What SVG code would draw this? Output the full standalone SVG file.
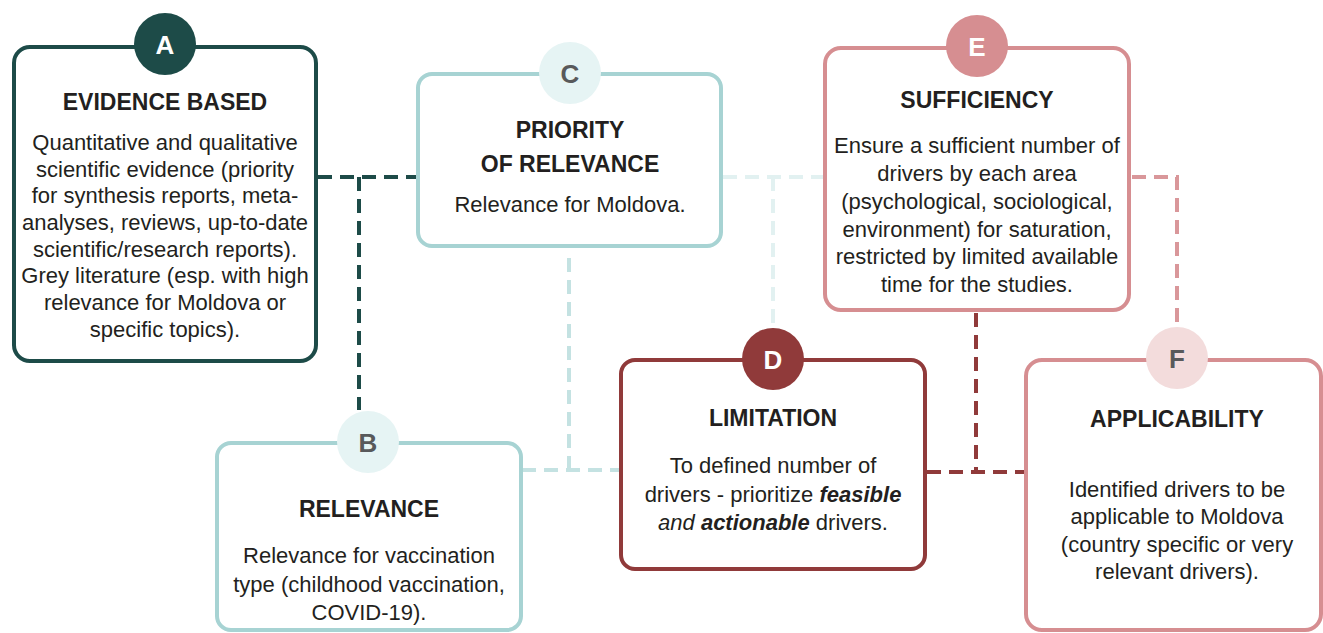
<svg xmlns="http://www.w3.org/2000/svg" width="1323" height="633" viewBox="0 0 1323 633">
<style>
.box{fill:#fff;stroke-width:4}
.t{font-family:"Liberation Sans",Arial,sans-serif;font-weight:bold;font-size:23px;fill:#231f20;text-anchor:middle}
.b{font-family:"Liberation Sans",Arial,sans-serif;font-size:22px;fill:#231f20;text-anchor:middle}
.L{font-family:"Liberation Sans",Arial,sans-serif;font-weight:bold;font-size:26px;text-anchor:middle}
.c{fill:none;stroke-width:4;stroke-dasharray:14 8}
</style>
<rect width="1323" height="633" fill="#fff"/>
<g id="connectors">
<path class="c" stroke="#1d4b48" d="M318 177H417M359 177V410"/>
<path class="c" stroke="#c4e2e2" d="M569 258V470M522 470H619"/>
<path class="c" stroke="#e2f1f1" d="M723 177H823M773 177V328"/>
<path class="c" stroke="#903a3a" d="M976 313V472M927 472H1024"/>
<path class="c" stroke="#d9979a" d="M1132 177H1177V327"/>
</g>
<g id="A">
<rect class="box" x="14" y="47" width="302" height="314" rx="16" stroke="#1d4b48"/>
<circle cx="165" cy="44" r="31" fill="#1d4b48"/>
<text class="L" x="165" y="54" fill="#fff">A</text>
<text class="t" x="165" y="110">EVIDENCE BASED</text>
<text class="b" x="165" y="150">Quantitative and qualitative</text>
<text class="b" x="165" y="177">scientific evidence (priority</text>
<text class="b" x="165" y="203">for synthesis reports, meta-</text>
<text class="b" x="165" y="230">analyses, reviews, up-to-date</text>
<text class="b" x="165" y="257">scientific/research reports).</text>
<text class="b" x="165" y="283">Grey literature (esp. with high</text>
<text class="b" x="165" y="310">relevance for Moldova or</text>
<text class="b" x="165" y="337">specific topics).</text>
</g>
<g id="C">
<rect class="box" x="418" y="74" width="303" height="172" rx="14" stroke="#a7d3d3"/>
<circle cx="570" cy="73" r="31" fill="#e6f4f4"/>
<text class="L" x="570" y="83" fill="#58595b">C</text>
<text class="t" x="570" y="138">PRIORITY</text>
<text class="t" x="570" y="172">OF RELEVANCE</text>
<text class="b" x="570" y="212">Relevance for Moldova.</text>
</g>
<g id="B">
<rect class="box" x="217" y="443" width="304" height="187" rx="14" stroke="#a7d3d3"/>
<circle cx="368" cy="442" r="31" fill="#e6f4f4"/>
<text class="L" x="368" y="452" fill="#58595b">B</text>
<text class="t" x="369" y="517">RELEVANCE</text>
<text class="b" x="369" y="563">Relevance for vaccination</text>
<text class="b" x="369" y="592">type (childhood vaccination,</text>
<text class="b" x="369" y="620">COVID-19).</text>
</g>
<g id="D">
<rect class="box" x="621" y="360" width="304" height="209" rx="14" stroke="#903a3a"/>
<circle cx="773" cy="359" r="31" fill="#903a3a"/>
<text class="L" x="773" y="369" fill="#fff">D</text>
<text class="t" x="773" y="426">LIMITATION</text>
<text class="b" x="773" y="473">To defined number of</text>
<text class="b" x="773" y="502">drivers - prioritize <tspan font-weight="bold" font-style="italic">feasible</tspan></text>
<text class="b" x="773" y="530"><tspan font-style="italic">and</tspan> <tspan font-weight="bold" font-style="italic">actionable</tspan> drivers.</text>
</g>
<g id="E">
<rect class="box" x="825" y="48" width="304" height="262" rx="16" stroke="#d68e91"/>
<circle cx="977" cy="46" r="31" fill="#d68e91"/>
<text class="L" x="977" y="56" fill="#fff">E</text>
<text class="t" x="977" y="108">SUFFICIENCY</text>
<text class="b" x="977" y="153">Ensure a sufficient number of</text>
<text class="b" x="977" y="181">drivers by each area</text>
<text class="b" x="977" y="209">(psychological, sociological,</text>
<text class="b" x="977" y="237">environment) for saturation,</text>
<text class="b" x="977" y="264">restricted by limited available</text>
<text class="b" x="977" y="292">time for the studies.</text>
</g>
<g id="F">
<rect class="box" x="1026" y="360" width="295" height="270" rx="16" stroke="#d68e91"/>
<circle cx="1177" cy="358" r="31" fill="#f3dcdc"/>
<text class="L" x="1177" y="368" fill="#58595b">F</text>
<text class="t" x="1177" y="427">APPLICABILITY</text>
<text class="b" x="1177" y="497">Identified drivers to be</text>
<text class="b" x="1177" y="524">applicable to Moldova</text>
<text class="b" x="1177" y="552">(country specific or very</text>
<text class="b" x="1177" y="579">relevant drivers).</text>
</g>
</svg>
